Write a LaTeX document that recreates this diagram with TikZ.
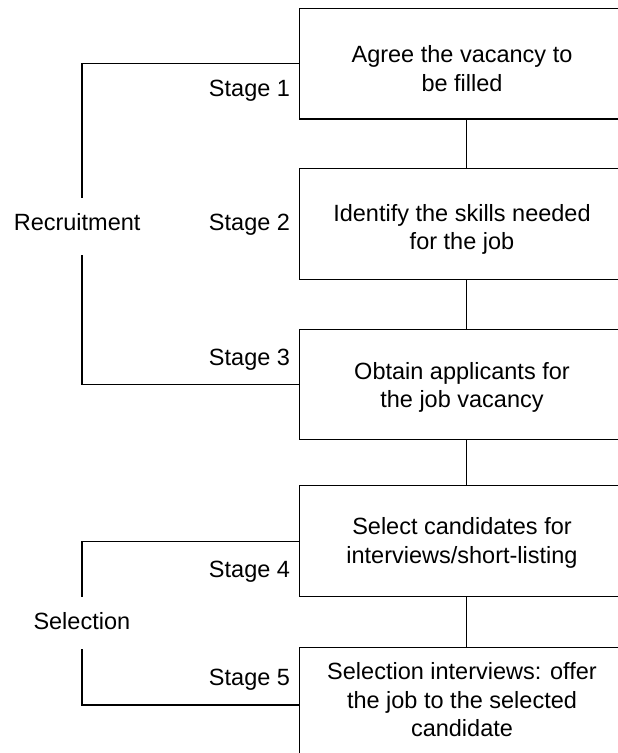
\documentclass[tikz,border=0pt]{standalone}
\usepackage{fontspec}
\setmainfont{Liberation Sans}
\begin{document}
\begin{tikzpicture}[x=1pt,y=-1pt,
  every node/.style={font=\fontsize{23.5pt}{28.3pt}\selectfont, inner sep=0pt, outer sep=0pt},
  box/.style={draw, line width=1.2pt, minimum width=334.2pt, minimum height=#1},
  txt/.style={align=center},
  stage/.style={anchor=base east},
  grp/.style={anchor=base west},
  ln/.style={line width=1.2pt}]
\useasboundingbox (0,0) rectangle (618,753);
\clip (0,0) rectangle (618,753);
% boxes
\node[box=110.7pt] (b1) at (466.7,63.65) {};
\node[box=111pt]   (b2) at (466.7,223.8) {};
\node[box=110pt]   (b3) at (466.7,384.3) {};
\node[box=111pt]   (b4) at (466.7,541.2) {};
\node[box=115.4pt] (b5) at (466.7,705) {};
% box texts
\node[txt] (t1) at (462,68.7)  {Agree the vacancy to\\be filled};
\node[txt] (t2) at (462,229.4) {Identify the skills needed\\for the job};
\node[txt] (t3) at (462,387.2) {Obtain applicants for\\the job vacancy};
\node[txt] (t4) at (462,542.8) {Select candidates for\\interviews/short-listing};
\node[txt] (t5) at (462,699.8) {Selection interviews: offer\\the job to the selected\\candidate};
% stage labels
\node[stage] (s1) at (290,96.7)  {Stage 1};
\node[stage] (s2) at (290,230)   {Stage 2};
\node[stage] (s3) at (290,365.7) {Stage 3};
\node[stage] (s4) at (290,577.3) {Stage 4};
\node[stage] (s5) at (290,685)   {Stage 5};
% group labels
\node[grp] (rec) at (13.8,230)  {Recruitment};
\node[grp] (sel) at (33.5,629.3) {Selection};
% vertical connectors
\draw[ln] (b1.south) -- (b2.north);
\draw[ln] (b2.south) -- (b3.north);
\draw[ln] (b3.south) -- (b4.north);
\draw[ln] (b4.south) -- (b5.north);
% brackets
\coordinate (r1) at (82,198.3);
\coordinate (r2) at (82,255);
\coordinate (q1) at (82,596.7);
\coordinate (q2) at (82,649.3);
\draw[ln] (b1.west) -| (r1);
\draw[ln] (r2) |- (b3.west);
\draw[ln] (b4.west) -| (q1);
\draw[ln] (q2) |- (b5.west);
\end{tikzpicture}
\end{document}
